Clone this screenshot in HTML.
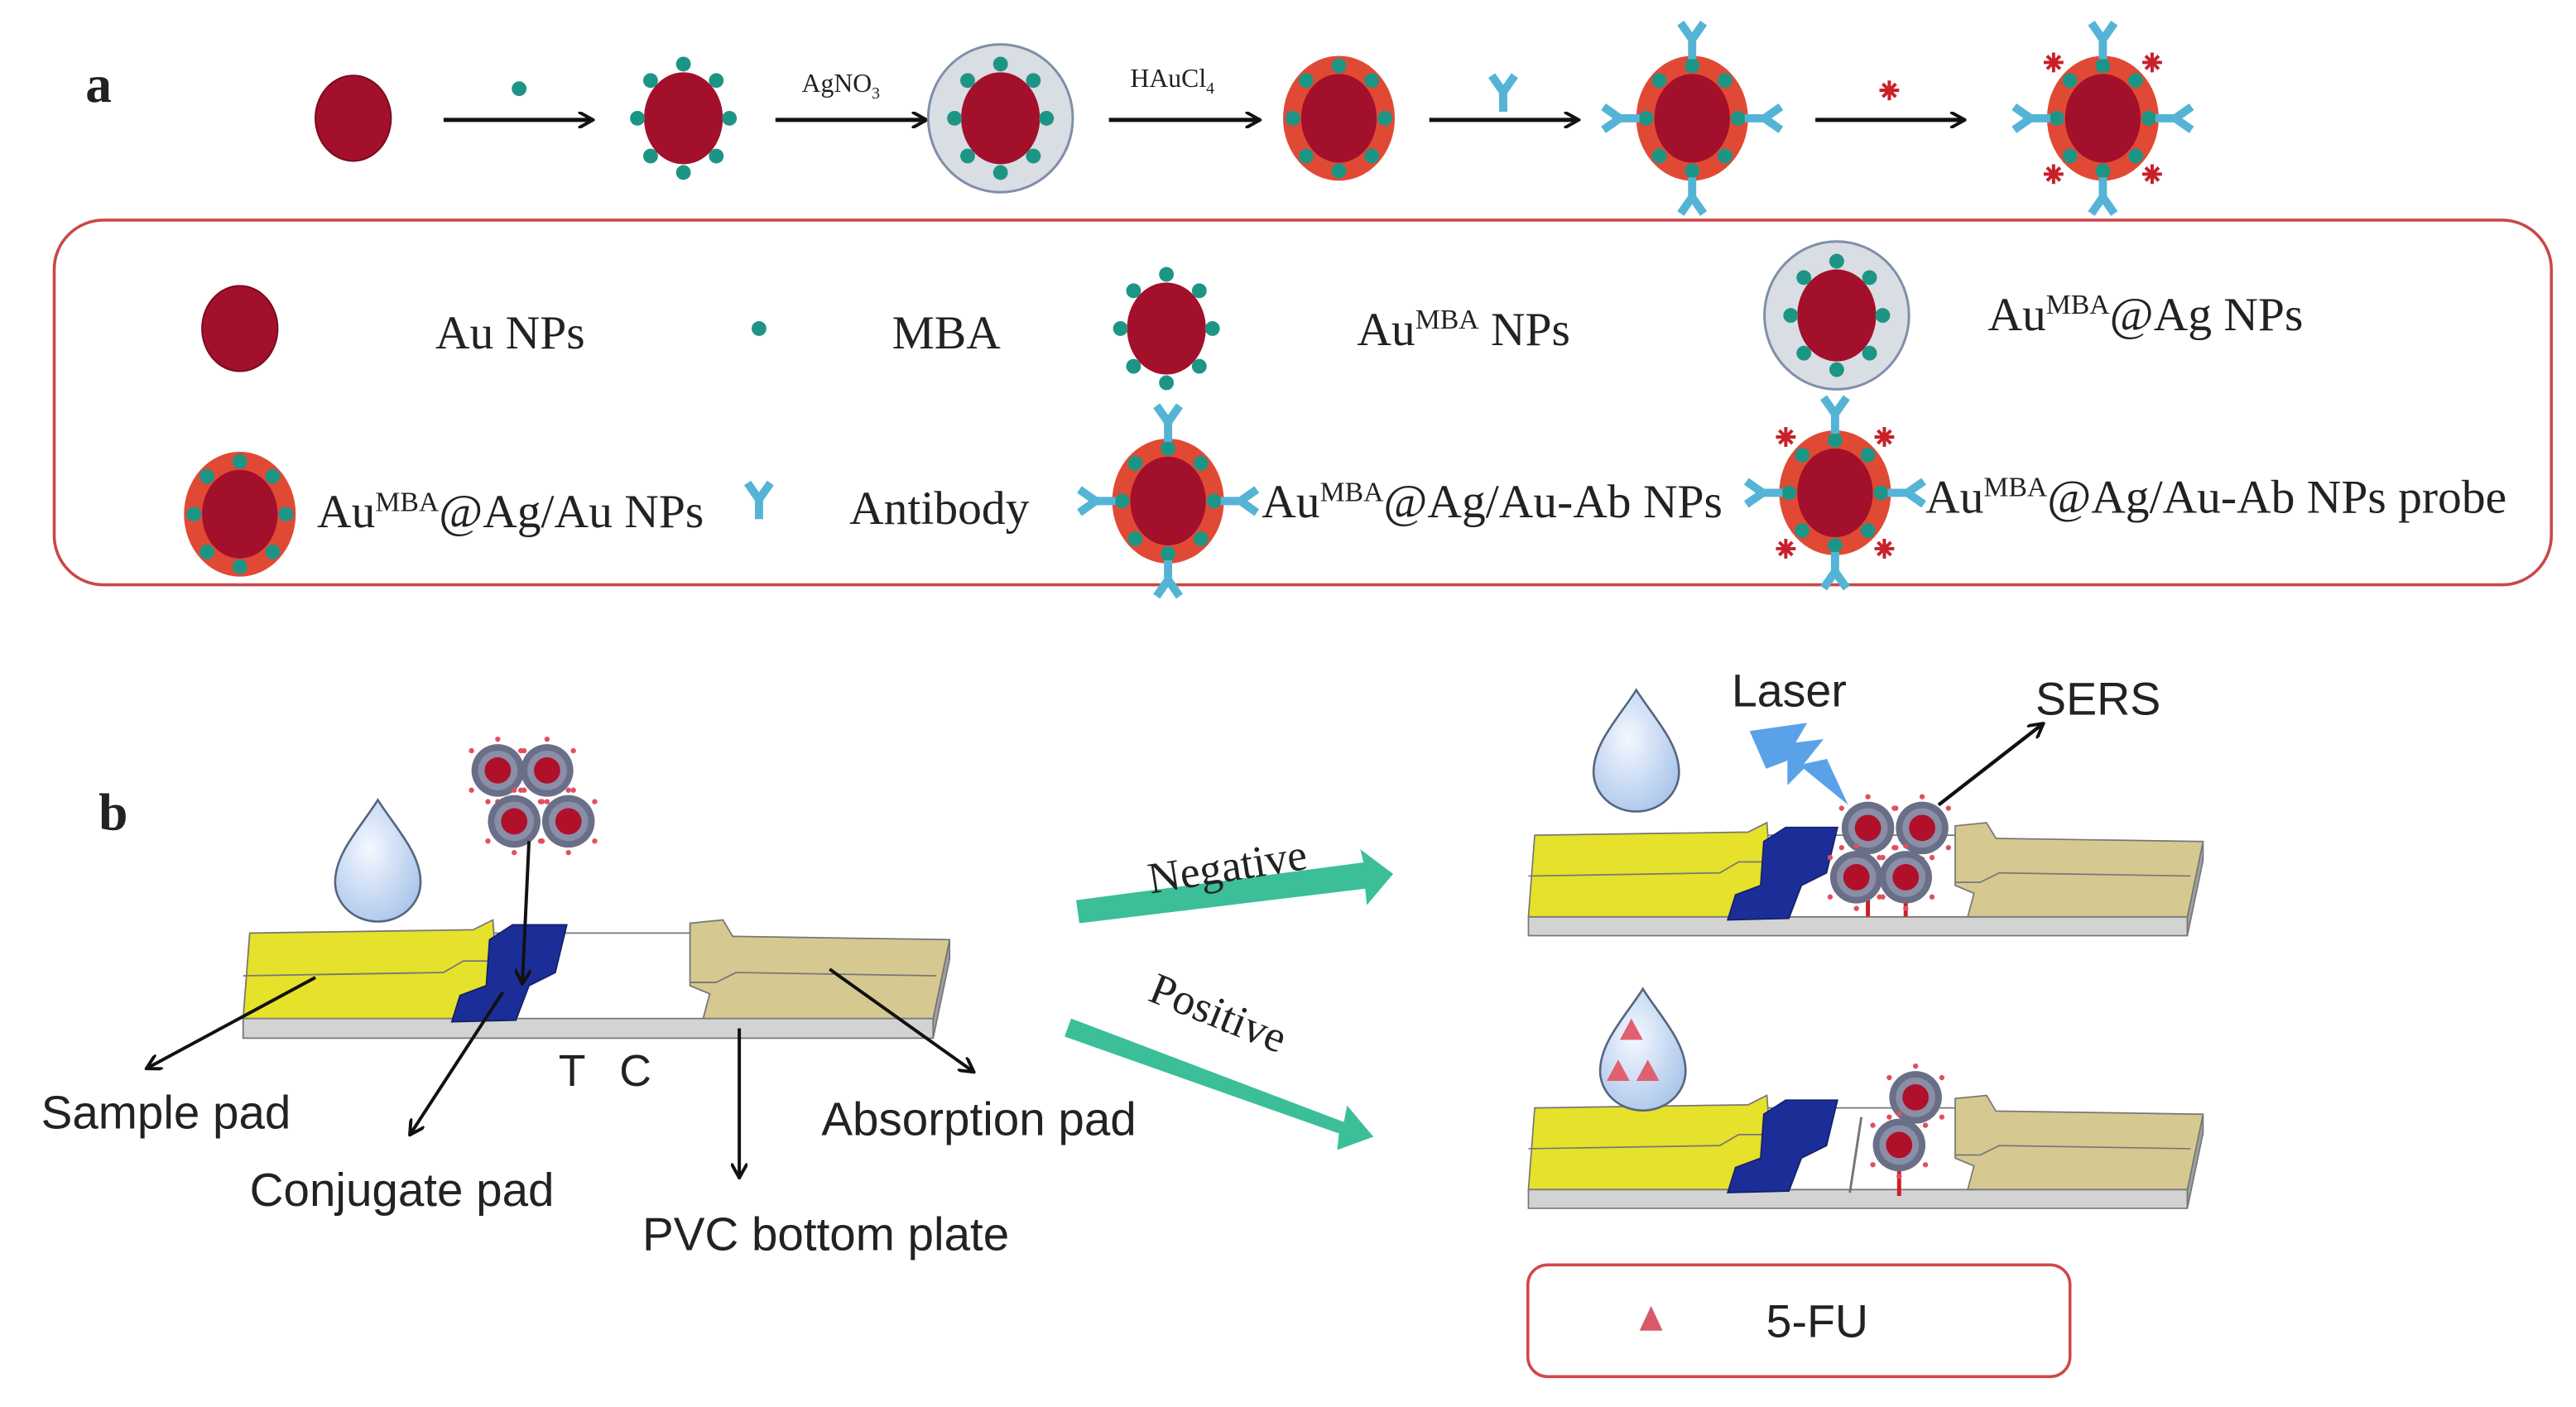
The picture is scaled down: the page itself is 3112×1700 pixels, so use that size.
<!DOCTYPE html>
<html><head><meta charset="utf-8"><style>
html,body{margin:0;padding:0;background:#fff;width:3112px;height:1700px;overflow:hidden}
svg{display:block}
.sr{font-family:"Liberation Serif",serif;fill:#222}
.ss{font-family:"Liberation Sans",sans-serif;fill:#222}
</style></head><body>
<svg width="3112" height="1700" viewBox="0 0 1568 856.5" preserveAspectRatio="none" xmlns="http://www.w3.org/2000/svg">
<defs>
<radialGradient id="dg" cx="0.4" cy="0.4" r="0.7"><stop offset="0" stop-color="#f4f8ff"/><stop offset="1" stop-color="#a8c4ea"/></radialGradient>
<marker id="ah" markerWidth="10" markerHeight="10" refX="8" refY="5" orient="auto" markerUnits="userSpaceOnUse"><path d="M0,0 L9,5 L0,10" fill="none" stroke="#111" stroke-width="2"/></marker>
<g id="core"><ellipse rx="23" ry="26" fill="#a3102b" stroke="#7a0a20" stroke-width="1"/></g>
<g id="mba"><ellipse rx="24" ry="28" fill="#a3102b"/>
<g fill="#1d9585"><circle cx="0" cy="-33" r="4.5"/><circle cx="0" cy="33" r="4.5"/><circle cx="-28" cy="0" r="4.5"/><circle cx="28" cy="0" r="4.5"/><circle cx="-20" cy="-23" r="4.5"/><circle cx="20" cy="-23" r="4.5"/><circle cx="-20" cy="23" r="4.5"/><circle cx="20" cy="23" r="4.5"/></g></g>
<g id="ag"><ellipse rx="44" ry="45" fill="#d9dde4" stroke="#7f8fa8" stroke-width="1.5"/><use href="#mba"/></g>
<g id="agau"><ellipse rx="34" ry="38" fill="#e04a35"/><ellipse rx="23" ry="27" fill="#a3102b"/>
<g fill="#1d9585"><circle cx="0" cy="-32" r="4.5"/><circle cx="0" cy="32" r="4.5"/><circle cx="-28" cy="0" r="4.5"/><circle cx="28" cy="0" r="4.5"/><circle cx="-20" cy="-23" r="4.5"/><circle cx="20" cy="-23" r="4.5"/><circle cx="-20" cy="23" r="4.5"/><circle cx="20" cy="23" r="4.5"/></g></g>
<path id="y" d="M0,0 V-12 M0,-12 L-7,-22 M0,-12 L7,-22" fill="none" stroke="#55b4d6" stroke-width="5"/>
<g id="ab"><use href="#agau"/><use href="#y" transform="translate(0,-36)"/><use href="#y" transform="translate(0,36) rotate(180)"/><use href="#y" transform="translate(-32,0) rotate(-90)"/><use href="#y" transform="translate(32,0) rotate(90)"/></g>
<path id="st" d="M-6,0H6M0,-6V6M-4,-4L4,4M-4,4L4,-4" stroke="#c8202a" stroke-width="2"/>
<g id="probe"><use href="#ab"/><use href="#st" x="-30" y="-34"/><use href="#st" x="30" y="-34"/><use href="#st" x="-30" y="34"/><use href="#st" x="30" y="34"/></g>
<g id="sp"><circle r="16" fill="#6a6f88"/><circle r="12" fill="#8a8ea6"/><circle r="8" fill="#b0102a"/>
<g fill="#e05060"><circle cx="-16" cy="-12" r="1.6"/><circle cx="16" cy="-12" r="1.6"/><circle cx="-16" cy="12" r="1.6"/><circle cx="16" cy="12" r="1.6"/><circle cx="0" cy="-19" r="1.6"/><circle cx="0" cy="19" r="1.6"/></g></g>
<path id="drop" d="M0,-38 C10,-22 26,-6 26,12 A26,24 0 0 1 -26,12 C-26,-6 -10,-22 0,-38Z" fill="url(#dg)" stroke="#55657e" stroke-width="1.3"/>
<g id="strip" stroke="#777" stroke-width="0.9">
<polygon points="148,620 568,620 568,632 148,632" fill="#d3d3d3"/>
<polygon points="568,620 578,572 578,584 568,632" fill="#a0a0a0"/>
<polygon points="300,568 432,568 432,620 288,620" fill="#fff"/>
<polygon points="152,568 288,566 300,560 303,600 292,605 290,620 148,620" fill="#e6e12a"/>
<polyline points="148,594 270,592 282,585 300,585" fill="none"/>
<polygon points="298,572 312,563 345,563 338,592 322,600 314,621 275,622 280,606 296,600" fill="#1b2e98" stroke="#14206a"/>
<polygon points="420,562 440,560 446,570 578,572 568,620 428,620 432,605 420,600" fill="#d6c891"/>
<polyline points="420,598 436,598 448,592 570,594" fill="none"/>
</g>
</defs>

<!-- Panel a -->
<text x="52" y="62" class="sr" font-size="32" font-weight="bold">a</text>
<use href="#core" x="215" y="72"/>
<line x1="270" y1="73" x2="360" y2="73" stroke="#111" stroke-width="2.5" marker-end="url(#ah)"/>
<circle cx="316" cy="54" r="4.5" fill="#1d9585"/>
<use href="#mba" x="416" y="72"/>
<line x1="472" y1="73" x2="563" y2="73" stroke="#111" stroke-width="2.5" marker-end="url(#ah)"/>
<text x="488" y="56" class="sr" font-size="16">AgNO<tspan font-size="10" dy="4">3</tspan></text>
<use href="#ag" x="609" y="72"/>
<line x1="675" y1="73" x2="766" y2="73" stroke="#111" stroke-width="2.5" marker-end="url(#ah)"/>
<text x="688" y="53" class="sr" font-size="16">HAuCl<tspan font-size="10" dy="4">4</tspan></text>
<use href="#agau" x="815" y="72"/>
<line x1="870" y1="73" x2="960" y2="73" stroke="#111" stroke-width="2.5" marker-end="url(#ah)"/>
<use href="#y" x="915" y="68"/>
<use href="#ab" x="1030" y="72"/>
<line x1="1105" y1="73" x2="1195" y2="73" stroke="#111" stroke-width="2.5" marker-end="url(#ah)"/>
<use href="#st" x="1150" y="55"/>
<use href="#probe" x="1280" y="72"/>

<rect x="33" y="134" width="1520" height="222" rx="30" fill="none" stroke="#c84848" stroke-width="1.8"/>
<use href="#core" x="146" y="200"/>
<text x="265" y="212" class="sr" font-size="29">Au NPs</text>
<circle cx="462" cy="200" r="4.5" fill="#1d9585"/>
<text x="543" y="212" class="sr" font-size="29">MBA</text>
<use href="#mba" x="710" y="200"/>
<text x="826" y="210" class="sr" font-size="29">Au<tspan font-size="17" dy="-10">MBA</tspan><tspan dy="10"> NPs</tspan></text>
<use href="#ag" x="1118" y="192"/>
<text x="1210" y="201" class="sr" font-size="29">Au<tspan font-size="17" dy="-10">MBA</tspan><tspan dy="10">@Ag NPs</tspan></text>
<use href="#agau" x="146" y="313"/>
<text x="193" y="321" class="sr" font-size="29">Au<tspan font-size="17" dy="-10">MBA</tspan><tspan dy="10">@Ag/Au NPs</tspan></text>
<use href="#y" x="462" y="316"/>
<text x="517" y="319" class="sr" font-size="29">Antibody</text>
<use href="#ab" x="711" y="305"/>
<text x="768" y="315" class="sr" font-size="29">Au<tspan font-size="17" dy="-10">MBA</tspan><tspan dy="10">@Ag/Au-Ab NPs</tspan></text>
<use href="#probe" x="1117" y="300"/>
<text x="1172" y="312" class="sr" font-size="29">Au<tspan font-size="17" dy="-10">MBA</tspan><tspan dy="10">@Ag/Au-Ab NPs probe</tspan></text>

<!-- Panel b -->
<text x="60" y="505" class="sr" font-size="32" font-weight="bold">b</text>
<use href="#drop" x="230" y="525"/>
<use href="#sp" x="303" y="469"/><use href="#sp" x="333" y="469"/><use href="#sp" x="313" y="500"/><use href="#sp" x="346" y="500"/>
<use href="#strip"/>
<line x1="322" y1="512" x2="318" y2="598" stroke="#111" stroke-width="2" marker-end="url(#ah)"/>
<line x1="192" y1="595" x2="90" y2="650" stroke="#111" stroke-width="2" marker-end="url(#ah)"/>
<line x1="306" y1="604" x2="250" y2="690" stroke="#111" stroke-width="2" marker-end="url(#ah)"/>
<line x1="450" y1="626" x2="450" y2="716" stroke="#111" stroke-width="2" marker-end="url(#ah)"/>
<line x1="505" y1="590" x2="592" y2="652" stroke="#111" stroke-width="2" marker-end="url(#ah)"/>
<text x="25" y="687" class="ss" font-size="28.5">Sample pad</text>
<text x="340" y="661" class="ss" font-size="27">T</text>
<text x="377" y="661" class="ss" font-size="27">C</text>
<text x="500" y="691" class="ss" font-size="28.5">Absorption pad</text>
<text x="152" y="734" class="ss" font-size="28.5">Conjugate pad</text>
<text x="391" y="761" class="ss" font-size="28.5">PVC bottom plate</text>

<polygon points="655,548 830,525 828,517 848,532 832,551 831,541 657,562" fill="#3cbf98"/>
<text x="698" y="536" class="sr" font-size="27" transform="rotate(-9 750 525)">Negative</text>
<polygon points="652,620 818,683 820,673 836,692 814,700 815,690 648,631" fill="#3cbf98"/>
<text x="693" y="626" class="sr" font-size="27" transform="rotate(22 740 630)">Positive</text>

<!-- right top strip -->
<use href="#strip" transform="translate(789,-34) scale(0.955)"/>
<use href="#drop" x="996" y="458"/>
<path d="M1065,445 L1100,440 L1093,452 L1110,450 L1098,465 L1112,462 L1125,490 L1098,468 L1088,478 L1088,463 L1075,468 Z" fill="#5aa2e8"/>
<text x="1054" y="430" class="ss" font-size="28">Laser</text>
<text x="1239" y="435" class="ss" font-size="28">SERS</text>
<line x1="1180" y1="490" x2="1243" y2="441" stroke="#111" stroke-width="2.2" marker-end="url(#ah)"/>
<line x1="1137" y1="530" x2="1137" y2="558" stroke="#c8202a" stroke-width="2.5"/>
<line x1="1160" y1="530" x2="1160" y2="558" stroke="#c8202a" stroke-width="2.5"/>
<use href="#sp" x="1137" y="504"/><use href="#sp" x="1170" y="504"/><use href="#sp" x="1130" y="534"/><use href="#sp" x="1160" y="534"/>

<!-- right bottom strip -->
<use href="#strip" transform="translate(789,132) scale(0.955)"/>
<line x1="1133" y1="680" x2="1126" y2="726" stroke="#777" stroke-width="1.5"/>
<use href="#drop" x="1000" y="640"/>
<polygon points="993,620 986,633 1000,633" fill="#e06070"/>
<polygon points="985,645 978,658 992,658" fill="#e06070"/>
<polygon points="1003,645 996,658 1010,658" fill="#e06070"/>
<line x1="1156" y1="710" x2="1156" y2="728" stroke="#c8202a" stroke-width="2.5"/>
<use href="#sp" x="1166" y="668"/><use href="#sp" x="1156" y="697"/>

<rect x="930" y="770" width="330" height="68" rx="12" fill="#fff" stroke="#d04848" stroke-width="1.8"/>
<polygon points="1005,795 998,810 1012,810" fill="#d85a6a"/>
<text x="1075" y="814" class="ss" font-size="28">5-FU</text>
</svg>
</body></html>
